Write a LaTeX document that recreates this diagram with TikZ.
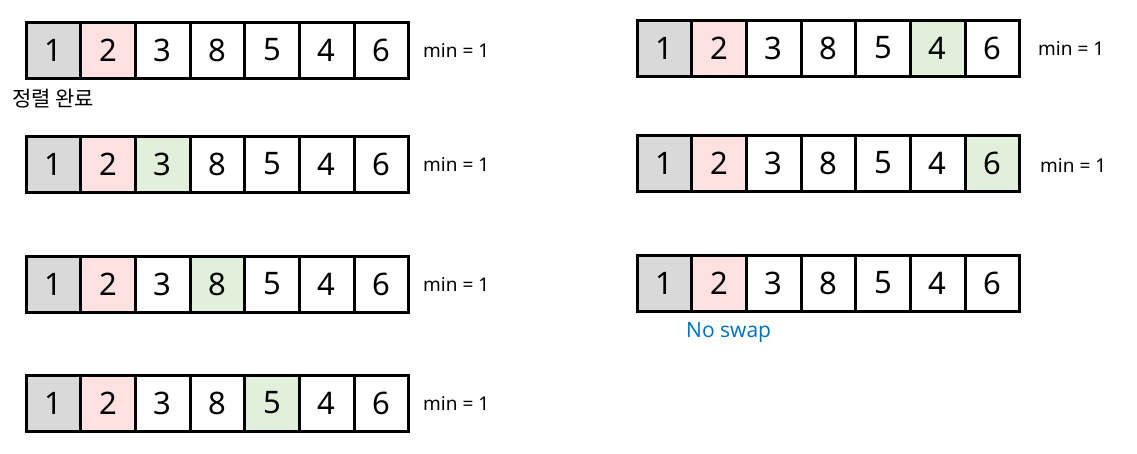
\documentclass[tikz,border=0pt]{standalone}
\usepackage{fontspec}
\setmainfont{Noto Sans}
\newfontfamily\kr{Noto Sans CJK KR}
\newfontfamily\osans{Open Sans}
\definecolor{cgray}{HTML}{D9D9D9}
\definecolor{cpink}{HTML}{FFE1E1}
\definecolor{cgreen}{HTML}{E2EFDA}
\definecolor{cblue}{HTML}{0070C0}
\begin{document}
\begin{tikzpicture}[x=1pt,y=-1pt,
  cell/.style={draw,line width=3pt,minimum width=54.7pt,minimum height=56pt,inner sep=0pt,outer sep=0pt,anchor=west,font=\fontsize{31}{33}\selectfont},
  minlbl/.style={anchor=west,font=\fontsize{19}{20}\selectfont,inner sep=0pt},
  note/.style={anchor=west,inner sep=0pt}]
\useasboundingbox (0,0) rectangle (1137,453);
% arguments: name, x, y, green index
\newcommand\arr[4]{%
  \foreach \v [count=\i] in {1,2,3,8,5,4,6} {
    \ifnum\i=1 \def\fc{cgray}\else\ifnum\i=2 \def\fc{cpink}\else\ifnum\i=#4 \def\fc{cgreen}\else\def\fc{white}\fi\fi\fi
    \node[cell,fill=\fc] (#1-\i) at ({#2+(\i-1)*54.7},#3) {\v};
  }%
}
\arr{a}{26}{50}{0}
\arr{b}{26}{164}{3}
\arr{c}{26}{284}{4}
\arr{d}{26}{403}{5}
\arr{e}{637}{48}{6}
\arr{f}{637}{163}{7}
\arr{g}{637}{283}{0}
\node[minlbl] (ma) at (423,50) {min = 1};
\node[minlbl] (mb) at (423,164) {min = 1};
\node[minlbl] (mc) at (423,284) {min = 1};
\node[minlbl] (md) at (423,403) {min = 1};
\node[minlbl] (me) at (1038,48) {min = 1};
\node[minlbl] (mf) at (1040,165) {min = 1};
\node[note,font=\kr\fontsize{21}{22}\selectfont] (done) at (12,99) {정렬 완료};
\node[note,font=\osans\fontsize{21}{22}\selectfont,text=cblue] (ns) at (686,333) {No swap};
\end{tikzpicture}
\end{document}
